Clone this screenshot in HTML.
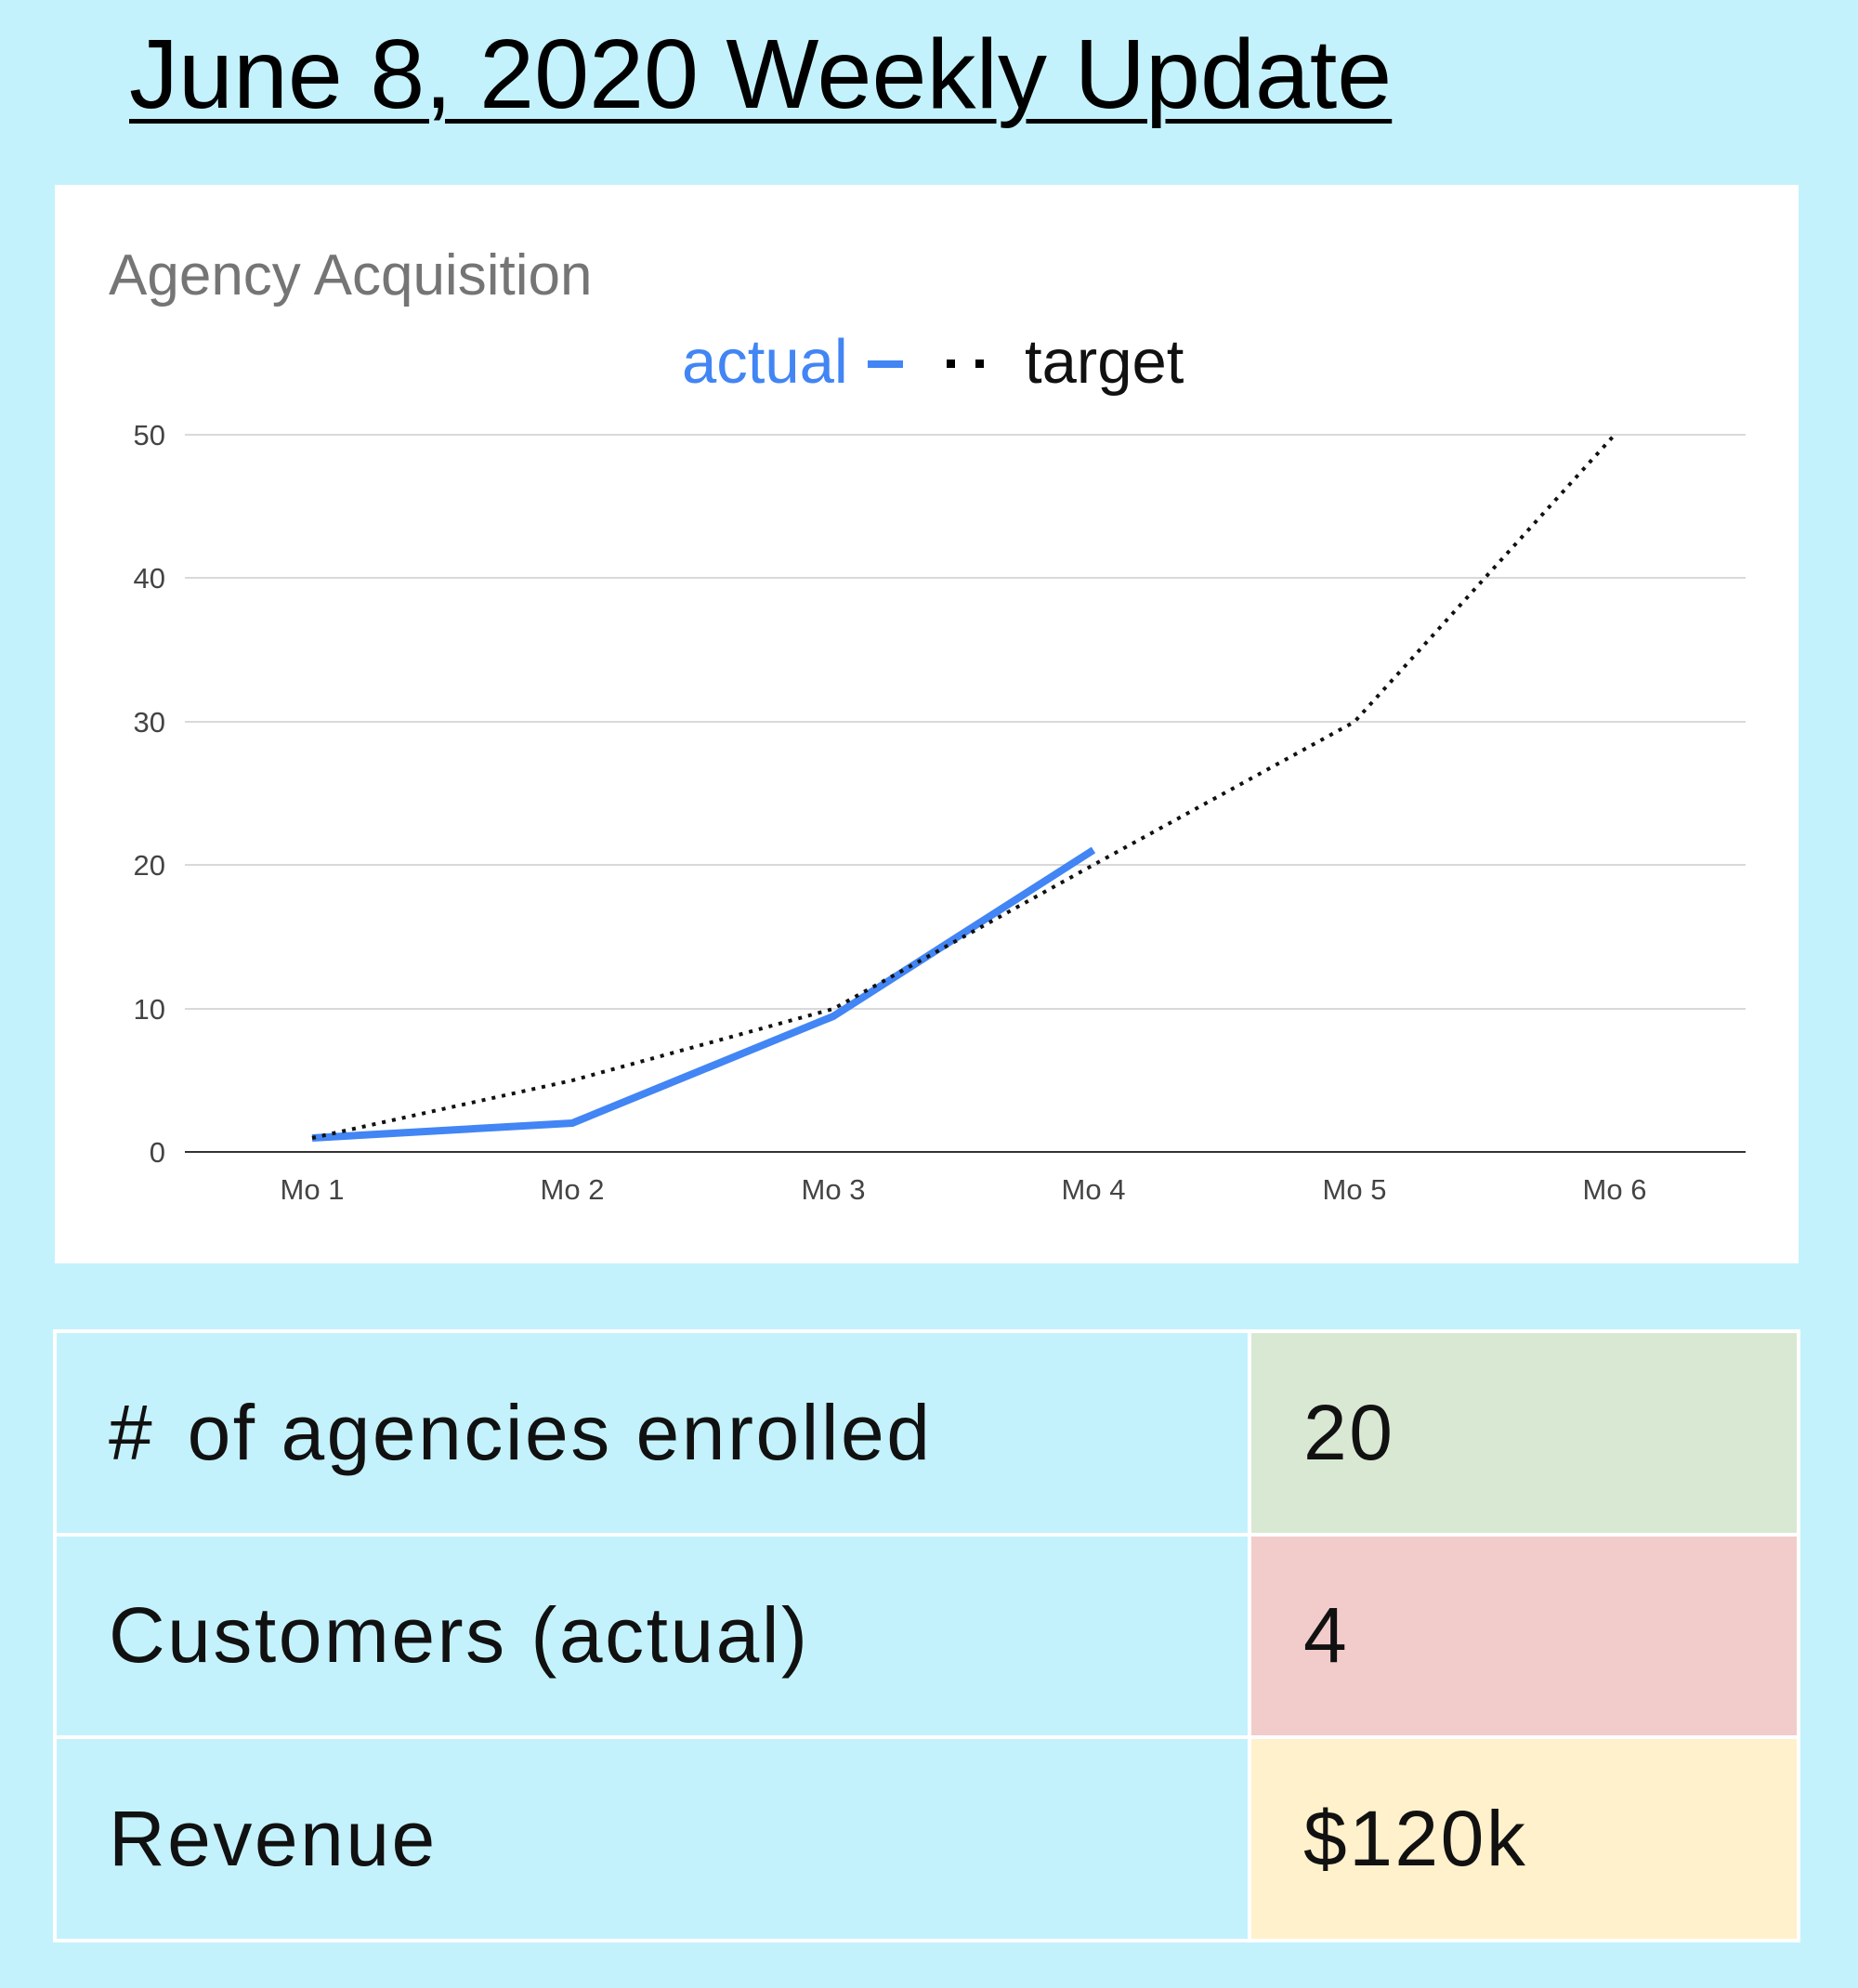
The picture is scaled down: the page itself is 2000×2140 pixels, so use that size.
<!DOCTYPE html>
<html><head><meta charset="utf-8"><style>
body{margin:0;width:2000px;height:2140px;background:#c4f2fc;position:relative;overflow:hidden;font-family:"Liberation Sans",sans-serif}
.title{position:absolute;left:139px;top:20px;font-size:106px;text-decoration:underline;text-decoration-thickness:5px;text-underline-offset:12px;color:#000;white-space:nowrap;letter-spacing:0px}
.chart{position:absolute;left:59px;top:199px;width:1877px;height:1161px;background:#fff}
table{position:absolute;left:57px;top:1431px;width:1881px;height:660px;border-collapse:collapse}
td{border:4px solid #fff;font-size:84px;color:#111;padding:0 0 0 56px;background:#c4f2fc;letter-spacing:2.5px}
td.v{padding-left:56px}
</style></head><body>
<div class="title">June 8, 2020 Weekly Update</div>
<div class="chart"></div>
<svg width="2000" height="2140" style="position:absolute;left:0;top:0">
<text x="117" y="317" font-size="62" fill="#757575" font-family="Liberation Sans">Agency Acquisition</text>
<text x="734" y="412" font-size="67" fill="#4285f4" font-family="Liberation Sans">actual</text>
<line x1="934" y1="392" x2="972" y2="392" stroke="#4285f4" stroke-width="8"/>
<rect x="1019" y="387" width="9" height="9" fill="#000"/><rect x="1050" y="387" width="9" height="9" fill="#000"/>
<text x="1103" y="412" font-size="67" fill="#111" font-family="Liberation Sans">target</text>
<g stroke="#d9d9d9" stroke-width="2">
<line x1="199" y1="468" x2="1879" y2="468"/><line x1="199" y1="622" x2="1879" y2="622"/><line x1="199" y1="777" x2="1879" y2="777"/><line x1="199" y1="931" x2="1879" y2="931"/><line x1="199" y1="1086" x2="1879" y2="1086"/>
</g>
<line x1="199" y1="1240" x2="1879" y2="1240" stroke="#333" stroke-width="2"/>
<g font-size="31" fill="#444" text-anchor="end" font-family="Liberation Sans">
<text x="178" y="479">50</text><text x="178" y="633">40</text><text x="178" y="788">30</text><text x="178" y="942">20</text><text x="178" y="1097">10</text><text x="178" y="1251">0</text>
</g>
<g font-size="31" fill="#444" text-anchor="middle" font-family="Liberation Sans">
<text x="336" y="1291">Mo 1</text><text x="616" y="1291">Mo 2</text><text x="897" y="1291">Mo 3</text><text x="1177" y="1291">Mo 4</text><text x="1458" y="1291">Mo 5</text><text x="1738" y="1291">Mo 6</text>
</g>
<polyline points="336,1225 616,1209 897,1094 1177,915" fill="none" stroke="#4285f4" stroke-width="8" stroke-linejoin="round"/>
<polyline points="336,1225 616,1163 897,1086 1177,931 1458,777 1738,468" fill="none" stroke="#111" stroke-width="4" stroke-dasharray="4,7"/>
</svg>
<table>
<tr><td style="width:1226px">#&#8202; of agencies enrolled</td><td class="v" style="background:#d9e8d3">20</td></tr>
<tr><td>Customers (actual)</td><td class="v" style="background:#f2cbcb">4</td></tr>
<tr><td>Revenue</td><td class="v" style="background:#fff1cb">$120k</td></tr>
</table>
</body></html>
